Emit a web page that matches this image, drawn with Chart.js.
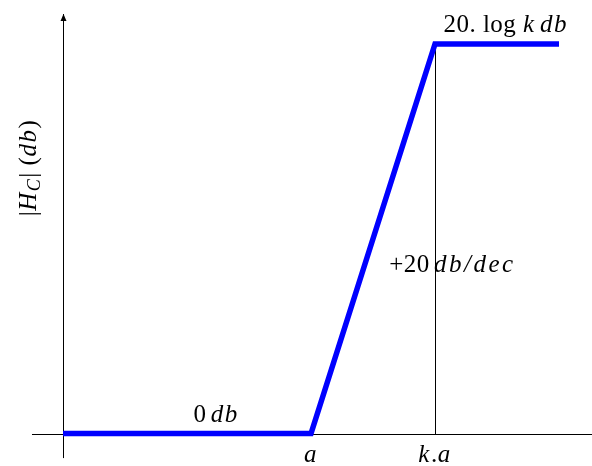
<!DOCTYPE html>
<html><head><meta charset="utf-8">
<script src="https://cdn.jsdelivr.net/npm/chart.js@4"></script>
<style>html,body{margin:0;padding:0;background:#fff}#wrap{width:592px;height:466px}</style>
</head><body><div id="wrap"><canvas id="c" width="592" height="466"></canvas></div>
<script>
// Bode asymptote: break points (x in decades-like units) and gain (normalised)
const breakX = [0, 2, 3, 4];          // origin, a, k.a, end
const gain   = [0, 0, 1, 1];          // 0 db ... 20.log k db
const tickLabels = ['a', 'k.a'];
const tickX = [2, 3];
const xAxisRange = [-0.25, 4.77];
const yAxisRange = [-0.063, 1.077];

const serif = '"Liberation Serif", "DejaVu Serif", serif';
const FS = 25;

function setFont(ctx, p) {
  ctx.font = (p[1] ? 'italic ' : '') + Math.round(FS * (p[2] || 1)) + 'px ' + serif;
  ctx.letterSpacing = p[1] ? (p[4] || '1.5px') : '0.5px';
}
function drawRich(ctx, parts, x, y, align) {
  // parts: [text, italic, sizeScale, dy, spacing]
  let total = 0;
  const widths = parts.map(p => {
    setFont(ctx, p);
    const w = ctx.measureText(p[0]).width; total += w; return w;
  });
  let cx = align === 'center' ? x - total / 2 : (align === 'right' ? x - total : x);
  parts.forEach((p, i) => {
    setFont(ctx, p);
    ctx.fillText(p[0], cx, y + (p[3] || 0));
    cx += widths[i];
  });
  ctx.letterSpacing = '0px';
}

const annot = {
  id: 'annot',
  beforeDatasetsDraw(chart) {
    const ctx = chart.ctx, xs = chart.scales.x, ys = chart.scales.y;
    ctx.save();
    ctx.strokeStyle = '#000'; ctx.fillStyle = '#000'; ctx.lineWidth = 1;
    const x0 = Math.round(xs.getPixelForValue(0)) + 0.5;
    const y0 = Math.round(ys.getPixelForValue(0)) + 0.5;
    const xl = xs.getPixelForValue(xAxisRange[0]), xr = xs.getPixelForValue(xAxisRange[1]);
    const yb = ys.getPixelForValue(yAxisRange[0]), yt = ys.getPixelForValue(yAxisRange[1]);
    ctx.beginPath(); ctx.moveTo(xl, y0); ctx.lineTo(xr, y0); ctx.stroke();
    ctx.beginPath(); ctx.moveTo(x0, yb); ctx.lineTo(x0, yt); ctx.stroke();
    // arrow heads
    ctx.beginPath(); ctx.moveTo(xr, y0); ctx.lineTo(xr - 7, y0 - 3); ctx.lineTo(xr - 7, y0 + 3); ctx.closePath(); ctx.fill();
    ctx.beginPath(); ctx.moveTo(x0, yt); ctx.lineTo(x0 - 3, yt + 7); ctx.lineTo(x0 + 3, yt + 7); ctx.closePath(); ctx.fill();
    // vertical line at k.a
    const xk = Math.round(xs.getPixelForValue(breakX[2])) + 0.5;
    ctx.beginPath(); ctx.moveTo(xk, ys.getPixelForValue(gain[2])); ctx.lineTo(xk, y0); ctx.stroke();
    ctx.restore();
  },
  afterDatasetsDraw(chart) {
    const ctx = chart.ctx, xs = chart.scales.x, ys = chart.scales.y;
    ctx.save();
    ctx.fillStyle = '#000'; ctx.textBaseline = 'alphabetic';
    const y0 = ys.getPixelForValue(0);
    // tick labels
    drawRich(ctx, [['a', true]], xs.getPixelForValue(tickX[0]), y0 + 28, 'center');
    drawRich(ctx, [['k', true], ['.', false], ['a', true]], xs.getPixelForValue(tickX[1]), y0 + 28, 'center');
    // 0 db
    drawRich(ctx, [['0', false], [' ', false, 0.6], ['db', true]], xs.getPixelForValue(1.235), y0 - 12, 'center');
    // +20 db/dec
    drawRich(ctx, [['+20', false], [' ', false, 0.6], ['db/dec', true, 1, 0, '2.5px']], xs.getPixelForValue(2.63), ys.getPixelForValue(0.415), 'left');
    // 20. log k db
    drawRich(ctx, [['20. log ', false], ['k', true], [' ', false, 0.6], ['db', true]], xs.getPixelForValue(3.57), ys.getPixelForValue(1.03), 'center');
    // y-axis title
    ctx.translate(36, 168); ctx.rotate(-Math.PI / 2);
    drawRich(ctx, [['|', false], ['H', true], ['C', true, 0.72, 4], ['|', false], [' (', false], ['db', true], [')', false]], 0, 0, 'center');
    ctx.restore();
  }
};

new Chart(document.getElementById('c'), {
  type: 'line',
  data: {
    datasets: [{
      data: breakX.map((x, i) => ({ x, y: gain[i] })),
      borderColor: '#0000ff', borderWidth: 5.5, pointRadius: 0,
      borderCapStyle: 'butt', borderJoinStyle: 'miter', tension: 0, fill: false
    }]
  },
  options: {
    responsive: false, animation: false, devicePixelRatio: 1,
    layout: { padding: 0 },
    plugins: { legend: { display: false }, tooltip: { enabled: false } },
    scales: {
      x: { type: 'linear', display: false, min: -0.508, max: 4.266 },
      y: { type: 'linear', display: false, min: -0.0833, max: 1.113 }
    }
  },
  plugins: [annot]
});
</script></body></html>
